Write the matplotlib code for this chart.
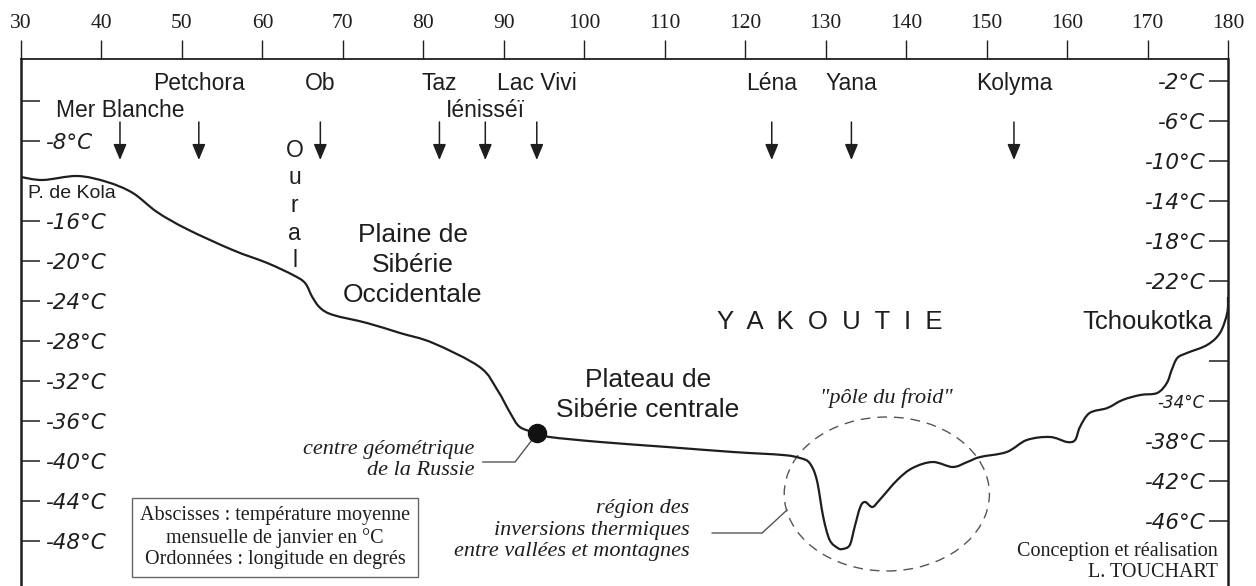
import matplotlib.pyplot as plt
from matplotlib.patches import Ellipse, PathPatch
from matplotlib.path import Path

# profile: longitude (deg E) vs January mean temperature (deg C)
lon = [30.0, 32.7, 37.0, 40.7, 43.9, 46.9, 50.6, 56.3, 60.6, 63.8, 65.3,
       66.2, 67.2, 68.8, 73.0, 77.1, 81.2, 87.0, 89.2, 90.8, 92.0, 94.1,
       95.7, 102.0, 110.3, 118.5, 124.7, 126.8, 128.0, 128.9, 129.7, 130.5,
       131.5, 132.1, 133.0, 133.6, 134.3, 134.9, 135.8, 136.7, 138.9, 140.8,
       143.3, 145.8, 147.6, 149.2, 152.5, 155.0, 157.9, 160.0, 161.0, 161.6,
       162.8, 165.0, 166.9, 169.1, 171.2, 172.4, 173.0, 173.7, 174.9, 177.4,
       179.0, 179.9, 180.0]
temp = [-11.6, -11.9, -11.5, -12.1, -13.2, -15.1, -16.8, -18.9, -20.2, -21.4,
        -22.2, -23.6, -24.7, -25.4, -26.2, -27.2, -28.2, -30.6, -32.9, -35.2,
        -36.6, -37.2, -37.6, -38.1, -38.6, -39.1, -39.4, -39.7, -40.2, -41.9,
        -45.6, -47.9, -48.7, -48.8, -48.4, -46.6, -44.6, -44.1, -44.6, -43.9,
        -41.9, -40.7, -40.1, -40.6, -40.1, -39.6, -39.1, -37.9, -37.6, -38.1,
        -37.9, -36.6, -35.2, -34.7, -33.9, -33.4, -33.2, -32.2, -30.9, -29.7,
        -29.2, -28.4, -27.2, -25.2, -23.6]

centre_lon, centre_temp = 94.1, -37.2

rivers = ["Mer Blanche", "Petchora", "Ob", "Taz", "Iénisséï", "Lac Vivi",
          "Léna", "Yana", "Kolyma"]
river_lon = [42.3, 52.1, 67.2, 82.0, 87.7, 94.1, 123.3, 133.2, 153.4]

lon_ticks = list(range(30, 181, 10))
left_vals = [-4, -8, -16, -20, -24, -28, -32, -36, -40, -44, -48]
left_labels = ["", "-8°C", "-16°C", "-20°C", "-24°C", "-28°C", "-32°C",
               "-36°C", "-40°C", "-44°C", "-48°C"]
right_vals = [-2, -6, -10, -14, -18, -22, -30, -34, -38, -42, -46]
right_labels = ["-2°C", "-6°C", "-10°C", "-14°C", "-18°C", "-22°C", "",
                "-34°C", "-38°C", "-42°C", "-46°C"]

SANS = "Liberation Sans"
SERIF = "Liberation Serif"
INK = "#1e1e1e"
GREY = "#555555"


def smooth_path(xs, ys):
    # bezier path passing through every read point (Catmull-Rom handles)
    pts = list(zip(xs, ys))
    verts = [pts[0]]
    codes = [Path.MOVETO]
    n = len(pts)
    for i in range(n - 1):
        p0 = pts[max(i - 1, 0)]
        p1 = pts[i]
        p2 = pts[i + 1]
        p3 = pts[min(i + 2, n - 1)]
        c1 = (p1[0] + (p2[0] - p0[0]) / 6, p1[1] + (p2[1] - p0[1]) / 6)
        c2 = (p2[0] - (p3[0] - p1[0]) / 6, p2[1] - (p3[1] - p1[1]) / 6)
        verts += [c1, c2, p2]
        codes += [Path.CURVE4] * 3
    return Path(verts, codes)


fig = plt.figure(figsize=(12.56, 5.86), dpi=100)
ax = fig.add_axes([21 / 1256, 0, 1207 / 1256, 1 - 59 / 586])
ax.set_xlim(30, 180)
ax.set_ylim(-52.5, 0.2)

ax.spines["bottom"].set_visible(False)
ax.spines["right"].set_visible(False)
ax.spines["top"].set_linewidth(1.3)
ax.spines["left"].set_linewidth(1.8)
for s in ax.spines.values():
    s.set_color(INK)

# longitude scale on top
ax.xaxis.tick_top()
ax.set_xticks(lon_ticks)
ax.tick_params(axis="x", direction="out", length=13.5, width=1, pad=5,
               labelsize=15.5, colors=INK, labelfontfamily=SERIF)

# temperature marks inside the frame, left
ax.set_yticks(left_vals)
ax.set_yticklabels(left_labels)
ax.tick_params(axis="y", direction="in", length=13.5, width=1.1, pad=-17,
               labelsize=15.5, colors=INK, labelfontfamily="DejaVu Sans")
for lbl in ax.get_yticklabels():
    lbl.set_ha("left")
    lbl.set_fontstyle("italic")

# right side
ax2 = ax.twinx()
ax2.set_ylim(ax.get_ylim())
for side in ["top", "bottom", "left"]:
    ax2.spines[side].set_visible(False)
ax2.spines["right"].set_linewidth(1.8)
ax2.spines["right"].set_color(INK)
ax2.set_yticks(right_vals)
ax2.set_yticklabels(right_labels)
ax2.tick_params(axis="y", direction="in", length=13.5, width=1.1, pad=-17,
                labelsize=15.5, colors=INK, labelfontfamily="DejaVu Sans")
for lbl in ax2.get_yticklabels():
    lbl.set_ha("right")
    lbl.set_fontstyle("italic")
ax2.get_yticklabels()[right_labels.index("-34°C")].set_fontsize(12)

# the profile
ax.add_patch(PathPatch(smooth_path(lon, temp), fill=False, ec=INK, lw=1.6,
                       joinstyle="round", zorder=3))
ax.plot(centre_lon, centre_temp, "o", ms=13, color="#111111", zorder=4)

# rivers and arrows
lower = {"Mer Blanche", "Iénisséï"}
for name, x in zip(rivers, river_lon):
    ax.annotate("", xy=(x, -9.9), xytext=(x, -6.1),
                arrowprops=dict(arrowstyle="-|>,head_length=0.6,head_width=0.25",
                                color=INK, lw=1.1, mutation_scale=16,
                                shrinkA=0, shrinkB=0))
    ax.text(x, -5.6 if name in lower else -2.9, name, ha="center",
            va="baseline", fontsize=16.5, family=SANS, color=INK)

for i, ch in enumerate("Oural"):
    ax.text(64.0, -9.6 - i * 2.75, ch, ha="center", va="baseline",
            fontsize=16.5, family=SANS, color=INK)

ax.text(30.9, -13.2, "P. de Kola", ha="left", va="center", fontsize=14,
        family=SANS, color=INK)
ax.text(78.7, -20.4, "Plaine de\nSibérie\nOccidentale", ha="center",
        va="center", fontsize=19, family=SANS, color=INK, linespacing=1.3)
ax.text(107.9, -33.4, "Plateau de\nSibérie centrale", ha="center",
        va="center", fontsize=19, family=SANS, color=INK, linespacing=1.3)
ax.text(130.5, -26.1, "Y  A  K  O  U  T  I  E", ha="center", va="center",
        fontsize=18.5, family=SANS, color=INK)
ax.text(178.1, -26.1, "Tchoukotka", ha="right", va="center", fontsize=18.5,
        family=SANS, color=INK)

ax.text(137.6, -33.7, '"pôle du froid"', ha="center", va="center",
        fontsize=16, family=SERIF, style="italic", color=INK)
ax.add_patch(Ellipse((137.6, -43.3), 25.5, 15.4, fill=False, ec=GREY,
                     lw=1, ls=(0, (7, 5))))

ax.text(86.4, -39.9, "centre géométrique\nde la Russie", ha="right",
        va="center", fontsize=16, family=SERIF, style="italic", color=INK,
        multialignment="right")
ax.plot([87.4, 91.4, 93.5], [-40.1, -40.1, -37.9], color=GREY, lw=1)

ax.text(113.1, -46.9,
        "région des\ninversions thermiques\nentre vallées et montagnes",
        ha="right", va="center", fontsize=16, family=SERIF, style="italic",
        color=INK, multialignment="right")
ax.plot([115.9, 122.1, 125.2], [-47.2, -47.2, -44.9], color=GREY, lw=1)

ax.text(61.6, -47.65,
        "Abscisses : température moyenne\nmensuelle de janvier en °C\n"
        "Ordonnées : longitude en degrés",
        ha="center", va="center", fontsize=14.5, family=SERIF, color=INK,
        bbox=dict(boxstyle="square,pad=0.4", fc="white", ec="#666666", lw=1))

ax.text(178.75, -50.1, "Conception et réalisation\nL. TOUCHART", ha="right",
        va="center", fontsize=14.5, family=SERIF, color=INK,
        multialignment="right")

fig.savefig("out.png", dpi=100, facecolor="white")
